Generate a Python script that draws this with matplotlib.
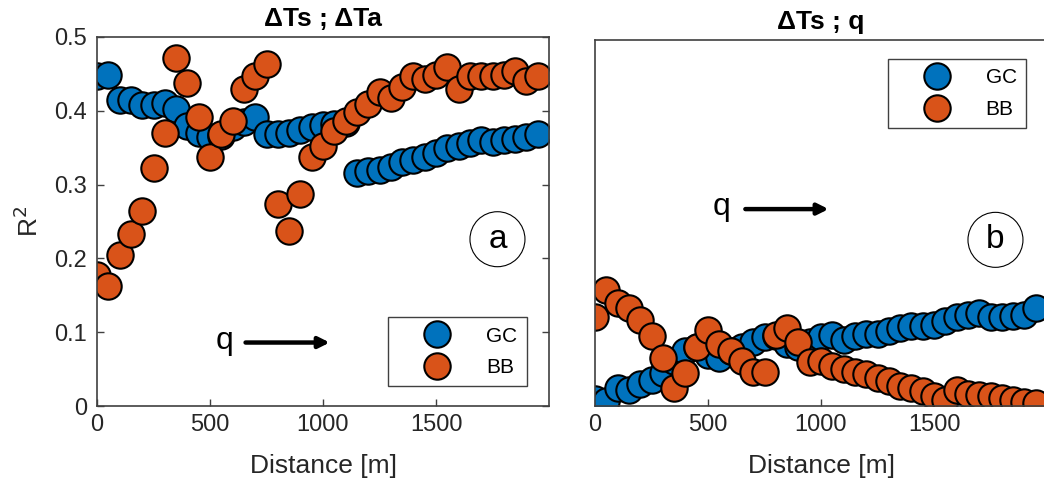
import matplotlib
matplotlib.use("Agg")
import matplotlib.pyplot as plt
import numpy as np

plt.rcParams['font.family'] = ['Liberation Sans', 'DejaVu Sans']

distance = np.arange(0, 2000, 50)

gc_a = [0.447, 0.449, 0.414, 0.414, 0.408, 0.408, 0.410, 0.403, 0.380, 0.370,
        0.365, 0.366, 0.378, 0.385, 0.392, 0.368, 0.368, 0.370, 0.374, 0.378,
        0.381, 0.382, 0.384, 0.316, 0.318, 0.320, 0.324, 0.330, 0.333, 0.338,
        0.343, 0.350, 0.352, 0.356, 0.360, 0.358, 0.360, 0.362, 0.365, 0.368]
bb_a = [0.178, 0.162, 0.205, 0.233, 0.264, 0.323, 0.370, 0.472, 0.438, 0.391,
        0.337, 0.368, 0.386, 0.430, 0.447, 0.463, 0.274, 0.237, 0.287, 0.338,
        0.352, 0.372, 0.386, 0.399, 0.409, 0.425, 0.418, 0.432, 0.447, 0.443,
        0.449, 0.460, 0.430, 0.447, 0.447, 0.447, 0.449, 0.454, 0.440, 0.447]
gc_b = [0.009, 0.007, 0.025, 0.022, 0.030, 0.036, 0.045, 0.062, 0.075, 0.080,
        0.070, 0.065, 0.075, 0.080, 0.088, 0.094, 0.095, 0.085, 0.080, 0.088,
        0.094, 0.097, 0.090, 0.096, 0.098, 0.099, 0.102, 0.107, 0.109, 0.109,
        0.111, 0.116, 0.122, 0.125, 0.127, 0.122, 0.121, 0.123, 0.125, 0.134]
bb_b = [0.121, 0.159, 0.141, 0.134, 0.118, 0.095, 0.066, 0.025, 0.045, 0.080,
        0.104, 0.085, 0.075, 0.061, 0.047, 0.046, 0.097, 0.107, 0.087, 0.060,
        0.061, 0.054, 0.050, 0.046, 0.044, 0.038, 0.034, 0.028, 0.024, 0.020,
        0.013, 0.008, 0.022, 0.017, 0.015, 0.013, 0.011, 0.008, 0.006, 0.004]

series_labels = ['GC', 'BB']
titles = ['\u0394Ts ; \u0394Ta', '\u0394Ts ; q']
panel_letters = ['a', 'b']
xticks = [0, 500, 1000, 1500]
yticks = [0, 0.1, 0.2, 0.3, 0.4, 0.5]
ytick_labels = ['0', '0.1', '0.2', '0.3', '0.4', '0.5']

BLUE = '#0072BD'
ORANGE = '#D95319'
AXC = '#404040'
TXT = '#262626'

fig = plt.figure(figsize=(10.44, 4.86), dpi=100)
axA = fig.add_axes([97/1044, 80/486, 452/1044, 369/486])
axB = fig.add_axes([595/1044, 80/486, 452/1044, 366/486])

mk = dict(marker='o', linestyle='none', markersize=19, markeredgecolor='black',
          markeredgewidth=1.5)

for ax, gc, bb, title in [(axA, gc_a, bb_a, titles[0]), (axB, gc_b, bb_b, titles[1])]:
    ax.plot(distance, gc, color=BLUE, markerfacecolor=BLUE, label=series_labels[0], **mk)
    ax.plot(distance, bb, color=ORANGE, markerfacecolor=ORANGE, label=series_labels[1], **mk)
    ax.set_xlim(0, 2000)
    ax.set_ylim(0, 0.5)
    ax.set_xticks(xticks)
    ax.set_yticks(yticks)
    ax.tick_params(direction='in', length=5, width=1, colors=AXC, labelcolor=TXT,
                   labelsize=17, top=False, right=True)
    ax.tick_params(axis='x', pad=6)
    ax.tick_params(axis='y', pad=7)
    for s in ax.spines.values():
        s.set_color(AXC)
        s.set_linewidth(1.2)
    ax.set_title(title, fontsize=19, fontweight='bold', color='black', pad=8)
    ax.set_xlabel('Distance [m]', fontsize=19, color=TXT, labelpad=13)

axA.set_yticklabels(ytick_labels)
axA.set_ylabel('R$^2$', fontsize=19, color=TXT, labelpad=8)
axB.tick_params(axis='y', left=False, right=False, labelleft=False)
axB.spines['right'].set_visible(False)

leg_kw = dict(fontsize=15, frameon=True, fancybox=False, edgecolor=AXC, framealpha=1,
              handletextpad=0.45, borderpad=0.45, labelspacing=0.6, handlelength=3.8,
              borderaxespad=0)
legA = axA.legend(loc='lower right', bbox_to_anchor=(0.951, 0.053), **leg_kw)
legA.get_frame().set_linewidth(1.0)
legB = axB.legend(loc='upper right', bbox_to_anchor=(0.954, 0.948), **leg_kw)
legB.get_frame().set_linewidth(1.0)

# q arrows
axA.text(565, 0.088, 'q', fontsize=23, ha='center', va='center', color='black')
axA.annotate('', xy=(1042, 0.086), xytext=(645, 0.086),
             arrowprops=dict(arrowstyle='-|>', color='black', lw=3.2, mutation_scale=16))
axB.text(561, 0.272, 'q', fontsize=23, ha='center', va='center', color='black')
axB.annotate('', xy=(1046, 0.269), xytext=(653, 0.269),
             arrowprops=dict(arrowstyle='-|>', color='black', lw=3.2, mutation_scale=16))

# panel letters
for ax, letter, yy in [(axA, panel_letters[0], 0.226), (axB, panel_letters[1], 0.227)]:
    ax.text(1772, yy, letter, fontsize=24, ha='center', va='center', color='black',
            bbox=dict(boxstyle='circle,pad=0.36', facecolor='white', edgecolor='black', lw=0.8))

fig.savefig('out.png', dpi=100)
